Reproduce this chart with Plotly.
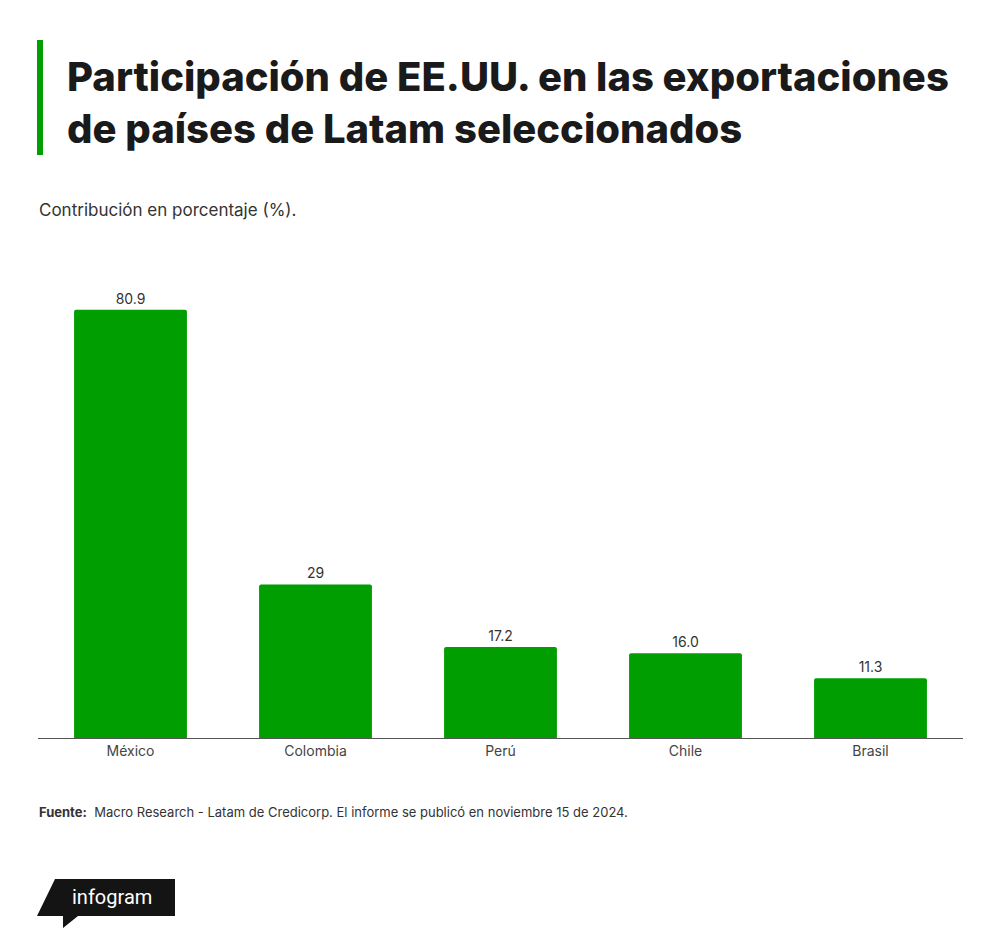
import plotly.graph_objects as go

# Data
countries = ["México", "Colombia", "Perú", "Chile", "Brasil"]
shares = [80.9, 29, 17.2, 16.0, 11.3]
share_labels = ["80.9", "29", "17.2", "16.0", "11.3"]

title = "Participación de EE.UU. en las exportaciones<br>de países de Latam seleccionados"
subtitle = "Contribución en porcentaje (%)."
source = "<b>Fuente:</b>  Macro Research - Latam de Credicorp. El informe se publicó en noviembre 15 de 2024."

# page has an 8px body margin, so the figure sits at (8, 8)
OFF = 8
W, H = 984, 932
L, R, T, B = 30, 29, 280, 202
PW, PH = W - L - R, H - T - B


def px(x):
    return (x - OFF - L) / PW


def py(y):
    return (H - B - (y - OFF)) / PH


GREEN = "#009e00"
FONT = "Inter"

fig = go.Figure(
    go.Bar(
        x=countries,
        y=shares,
        text=share_labels,
        textposition="outside",
        textfont=dict(family=FONT, size=14, color="#333333"),
        marker=dict(color=GREEN, line=dict(width=0), cornerradius=2),
        cliponaxis=False,
        hoverinfo="skip",
    )
)

fig.update_layout(
    width=W,
    height=H,
    margin=dict(l=L, r=R, t=T, b=B),
    paper_bgcolor="white",
    plot_bgcolor="white",
    bargap=0.39,
    showlegend=False,
    font=dict(family=FONT, color="#333333"),
    xaxis=dict(
        showgrid=False,
        showline=True,
        linecolor="#555555",
        linewidth=1,
        ticks="",
        tickfont=dict(family=FONT, size=14, color="#444444"),
    ),
    yaxis=dict(
        range=[0, 85],
        showgrid=False,
        showticklabels=False,
        zeroline=False,
        showline=False,
    ),
)

# title block with green accent bar
fig.add_shape(type="rect", xref="paper", yref="paper",
              x0=px(37), x1=px(43), y0=py(155), y1=py(40),
              fillcolor=GREEN, line=dict(width=0))
fig.add_annotation(text=title, xref="paper", yref="paper",
                   x=px(65), y=py(50), xanchor="left", yanchor="top",
                   align="left", showarrow=False,
                   font=dict(family=FONT, size=40, weight=800, color="#1a1a1a"))
fig.add_annotation(text=subtitle, xref="paper", yref="paper",
                   x=px(37), y=py(210), xanchor="left", yanchor="middle",
                   showarrow=False,
                   font=dict(family=FONT, size=17, color="#333333"))
fig.add_annotation(text=source, xref="paper", yref="paper",
                   x=px(37), y=py(812), xanchor="left", yanchor="middle",
                   showarrow=False,
                   font=dict(family=FONT, size=13, color="#333333"))

# infogram badge
badge = [("M", 55, 879), ("L", 175, 879), ("L", 175, 916), ("L", 78, 916),
         ("L", 63, 928), ("L", 63, 916), ("L", 37, 916)]
path = " ".join(f"{c} {px(x)} {py(y)}" for c, x, y in badge) + " Z"
fig.add_shape(type="path", xref="paper", yref="paper", path=path,
              fillcolor="#141414", line=dict(width=0))
fig.add_annotation(text="infogram", xref="paper", yref="paper",
                   x=px(112), y=py(897), xanchor="center", yanchor="middle",
                   showarrow=False,
                   font=dict(family="Roboto", size=20, color="white"))

fig.write_html("out.html")
